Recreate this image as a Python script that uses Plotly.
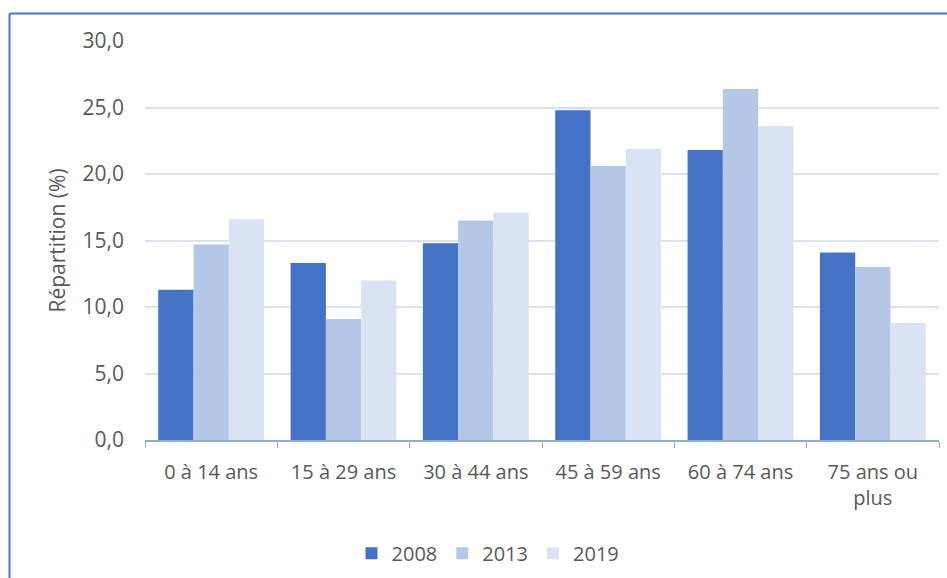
import plotly.graph_objects as go

categories = ["0 à 14 ans", "15 à 29 ans", "30 à 44 ans", "45 à 59 ans", "60 à 74 ans", "75 ans ou<br>plus"]
years = ["2008", "2013", "2019"]
v2008 = [11.3, 13.3, 14.8, 24.8, 21.8, 14.1]
v2013 = [14.7, 9.1, 16.5, 20.6, 26.4, 13.0]
v2019 = [16.6, 12.0, 17.1, 21.9, 23.6, 8.8]
y_ticks = [0, 5, 10, 15, 20, 25, 30]

colors = ["#4472C4", "#B4C7E7", "#DAE3F3"]
series = [v2008, v2013, v2019]

W, H = 947, 578
L, R, T, B = 145, 8, 41, 138
pw, ph = W - L - R, H - T - B

fig = go.Figure()
for name, vals, col in zip(years, series, colors):
    fig.add_trace(go.Bar(x=categories, y=vals, name=name, marker_color=col,
                         marker_line_width=0))

font_family = "Open Sans, Liberation Sans, sans-serif"
txt = "#595959"

# border lines (frame)
bx = (9.5 - L) / pw
by = 1 + (T - 13.5) / ph
fig.add_shape(type="line", xref="paper", yref="paper", x0=bx, y0=by, x1=1.2, y1=by,
              line=dict(color="#4A76C6", width=2))
fig.add_shape(type="line", xref="paper", yref="paper", x0=bx, y0=by, x1=bx, y1=-0.6,
              line=dict(color="#4A76C6", width=2))

fig.update_layout(
    width=W, height=H,
    margin=dict(l=L, r=R, t=T, b=B, pad=0, autoexpand=False),
    paper_bgcolor="white", plot_bgcolor="white",
    barmode="group", bargap=0.2, bargroupgap=0,
    separators=", ",
    font=dict(family=font_family, size=20, color=txt),
    showlegend=True,
    legend=dict(orientation="h", x=0.432, xanchor="center", y=-0.284, yanchor="middle",
                font=dict(family=font_family, size=20, color=txt), itemwidth=30, traceorder="normal"),
    xaxis=dict(showline=True, linecolor="#8FAADC", linewidth=1.5, automargin=False,
               ticks="outside", tickson="boundaries", ticklen=6, tickcolor="#8FAADC",
               tickfont=dict(family=font_family, size=20, color=txt), ticklabelstandoff=13, showgrid=False),
    yaxis=dict(range=[0, 30], tickvals=y_ticks, tickformat=".1f", showline=False, automargin=False,
               gridcolor="#D9E2F3", gridwidth=1.5, zeroline=False,
               tickfont=dict(family=font_family, size=21, color=txt), ticklabelstandoff=20,
               title=dict(text="Répartition (%)", font=dict(family=font_family, size=21, color=txt), standoff=11)),
)

fig.write_html("out.html")
